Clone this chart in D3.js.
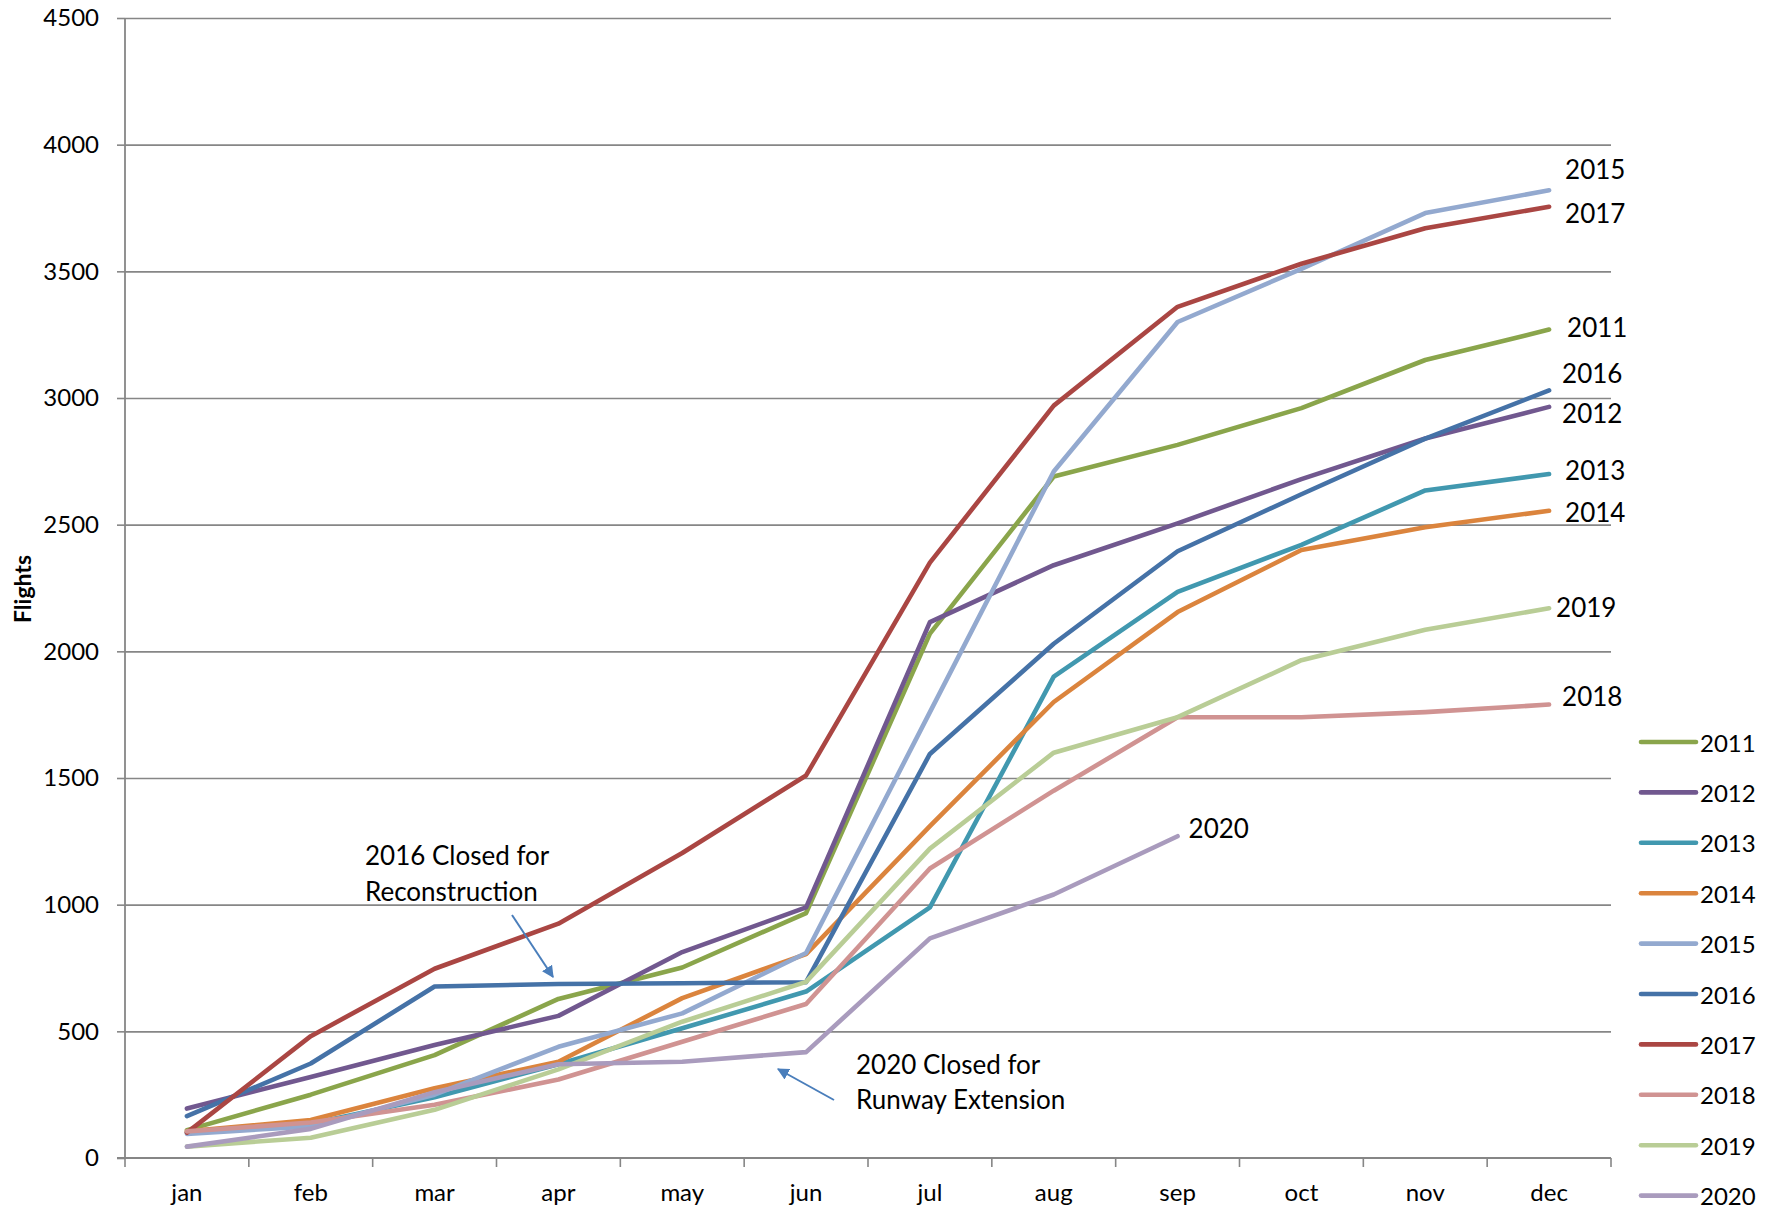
<!DOCTYPE html>
<html>
<head>
<meta charset="utf-8">
<script src="https://cdn.jsdelivr.net/npm/d3@7"></script>
<style>
  html, body { margin: 0; padding: 0; background: #fff; }
  svg { display: block; }
  text { font-family: Lato, "Open Sans", sans-serif; fill: #000; }
</style>
</head>
<body>
<svg id="chart" width="1774" height="1210"></svg>
<script>
// ---- data ----
const months = ["jan","feb","mar","apr","may","jun","jul","aug","sep","oct","nov","dec"];
const years = ["2011","2012","2013","2014","2015","2016","2017","2018","2019","2020"];
const v2011 = [110, 250, 406, 628, 752, 967, 2070, 2690, 2815, 2960, 3150, 3270];
const v2012 = [195, 320, 446, 561, 813, 989, 2115, 2340, 2505, 2680, 2840, 2965];
const v2013 = [100, 135, 240, 370, 512, 657, 989, 1900, 2235, 2420, 2635, 2700];
const v2014 = [105, 150, 275, 380, 631, 805, 1310, 1800, 2155, 2400, 2490, 2555];
const v2015 = [95, 125, 250, 439, 571, 809, 1760, 2710, 3300, 3510, 3730, 3820];
const v2016 = [165, 373, 677, 687, 690, 694, 1595, 2030, 2395, 2620, 2840, 3030];
const v2017 = [100, 481, 747, 925, 1204, 1510, 2350, 2970, 3360, 3530, 3670, 3755];
const v2018 = [105, 140, 210, 310, 459, 608, 1143, 1450, 1740, 1740, 1760, 1790];
const v2019 = [45, 80, 190, 350, 538, 695, 1221, 1600, 1740, 1965, 2085, 2170];
const v2020 = [45, 115, 260, 370, 380, 418, 867, 1040, 1270, null, null, null];
const yTicks = [0, 500, 1000, 1500, 2000, 2500, 3000, 3500, 4000, 4500];
const annotations = [
  ["2016 Closed for", "Reconstruction"],
  ["2020 Closed for", "Runway Extension"]
];

// ---- styles / layout ----
const colors = {
  "2011": "#8aa54b", "2012": "#71588f", "2013": "#4198af", "2014": "#db843d",
  "2015": "#93a9cf", "2016": "#4572a7", "2017": "#aa4643", "2018": "#d09392",
  "2019": "#b9cd96", "2020": "#a99bbd"
};
const values = { "2011": v2011, "2012": v2012, "2013": v2013, "2014": v2014, "2015": v2015,
  "2016": v2016, "2017": v2017, "2018": v2018, "2019": v2019, "2020": v2020 };
// end-label offsets (pixels) relative to the last point of each series
const labelOffset = {
  "2011": [18, -3], "2012": [13, 6], "2013": [16, -4], "2014": [16, 1], "2015": [16, -21],
  "2016": [13, -17], "2017": [16, 6], "2018": [13, -9], "2019": [7, -1], "2020": [11, -8]
};

const svg = d3.select("#chart");
const pLeft = 125, pRight = 1611, pTop = 18, pBottom = 1158;
const FONT = 24, FONT_BIG = 26;

const x = d3.scaleBand().domain(months).range([pLeft, pRight]).paddingInner(0).paddingOuter(0);
const cx = m => x(m) + x.bandwidth() / 2;
const y = d3.scaleLinear().domain([0, 4500]).range([pBottom, pTop]);

const gridColor = "#868686";

// y axis ticks + labels
const yAxis = d3.axisLeft(y).tickValues(yTicks).tickSize(8).tickPadding(18).tickFormat(d3.format("d"));
const gy = svg.append("g").attr("transform", `translate(${pLeft},0)`).call(yAxis);
gy.select(".domain").remove();
gy.selectAll(".tick line").attr("stroke", gridColor).attr("stroke-width", 1.6);
gy.selectAll(".tick text").style("font-size", FONT + "px").attr("fill", "#000");

// gridlines
const grid = svg.append("g").attr("transform", `translate(${pLeft},0)`)
  .call(d3.axisLeft(y).tickValues(yTicks.filter(d => d > 0)).tickSize(-(pRight - pLeft)).tickFormat(""));
grid.select(".domain").remove();
grid.selectAll(".tick line").attr("stroke", gridColor).attr("stroke-width", 1.6);

// y axis line
svg.append("line").attr("x1", pLeft).attr("x2", pLeft).attr("y1", pTop).attr("y2", pBottom)
  .attr("stroke", gridColor).attr("stroke-width", 1.8);

// x axis
const xAxis = d3.axisBottom(x).tickSize(0).tickPadding(26);
const gx = svg.append("g").attr("transform", `translate(0,${pBottom})`).call(xAxis);
gx.select(".domain").remove();
gx.selectAll(".tick text").style("font-size", FONT + "px").attr("fill", "#000");
svg.append("line").attr("x1", pLeft - 8).attr("x2", pRight).attr("y1", pBottom).attr("y2", pBottom)
  .attr("stroke", gridColor).attr("stroke-width", 1.8);
const boundaries = months.map(m => x(m)).concat([pRight]);
svg.append("g").selectAll("line").data(boundaries).join("line")
  .attr("x1", d => d).attr("x2", d => d).attr("y1", pBottom).attr("y2", pBottom + 9)
  .attr("stroke", gridColor).attr("stroke-width", 1.6);

// y axis title
svg.append("text").attr("transform", `translate(31,589) rotate(-90)`)
  .attr("text-anchor", "middle").style("font-size", "23px").style("font-weight", "bold").text("Flights");

// lines
const line = d3.line().defined(d => d[1] != null).x(d => cx(d[0])).y(d => y(d[1]));
const gl = svg.append("g");
years.forEach(yr => {
  const pts = months.map((m, i) => [m, values[yr][i]]);
  gl.append("path").datum(pts).attr("d", line).attr("fill", "none")
    .attr("stroke", colors[yr]).attr("stroke-width", 4.6)
    .attr("stroke-linejoin", "round").attr("stroke-linecap", "round");
});

// end labels
years.forEach(yr => {
  const vals = values[yr];
  let li = vals.length - 1;
  while (vals[li] == null) li--;
  const [dx, dy] = labelOffset[yr];
  svg.append("text").attr("x", cx(months[li]) + dx).attr("y", y(vals[li]) + dy)
    .attr("dominant-baseline", "central").style("font-size", FONT_BIG + "px").text(yr);
});

// annotations
const arrowColor = "#4a7ebb";
svg.append("defs").append("marker").attr("id", "arr").attr("viewBox", "0 0 10 10")
  .attr("refX", 9).attr("refY", 5).attr("markerWidth", 6).attr("markerHeight", 6)
  .attr("markerUnits", "strokeWidth").attr("orient", "auto")
  .append("path").attr("d", "M0,0 L10,5 L0,10 z").attr("fill", arrowColor);

const ann1 = svg.append("text").style("font-size", FONT_BIG + "px");
ann1.append("tspan").attr("x", 365).attr("y", 865).text(annotations[0][0]);
ann1.append("tspan").attr("x", 365).attr("y", 901).text(annotations[0][1]);
svg.append("line").attr("x1", 512).attr("y1", 915).attr("x2", 553).attr("y2", 977)
  .attr("stroke", arrowColor).attr("stroke-width", 2).attr("marker-end", "url(#arr)");

const ann2 = svg.append("text").style("font-size", FONT_BIG + "px");
ann2.append("tspan").attr("x", 856).attr("y", 1074).text(annotations[1][0]);
ann2.append("tspan").attr("x", 856).attr("y", 1109).text(annotations[1][1]);
svg.append("line").attr("x1", 834).attr("y1", 1100).attr("x2", 778).attr("y2", 1069)
  .attr("stroke", arrowColor).attr("stroke-width", 2).attr("marker-end", "url(#arr)");

// legend
const lg = svg.append("g");
years.forEach((yr, i) => {
  const ly = 742 + i * 50.4;
  lg.append("line").attr("x1", 1641).attr("x2", 1696).attr("y1", ly).attr("y2", ly)
    .attr("stroke", colors[yr]).attr("stroke-width", 4.6).attr("stroke-linecap", "round");
  lg.append("text").attr("x", 1700).attr("y", ly).attr("dominant-baseline", "central")
    .style("font-size", FONT + "px").text(yr);
});
</script>
</body>
</html>
